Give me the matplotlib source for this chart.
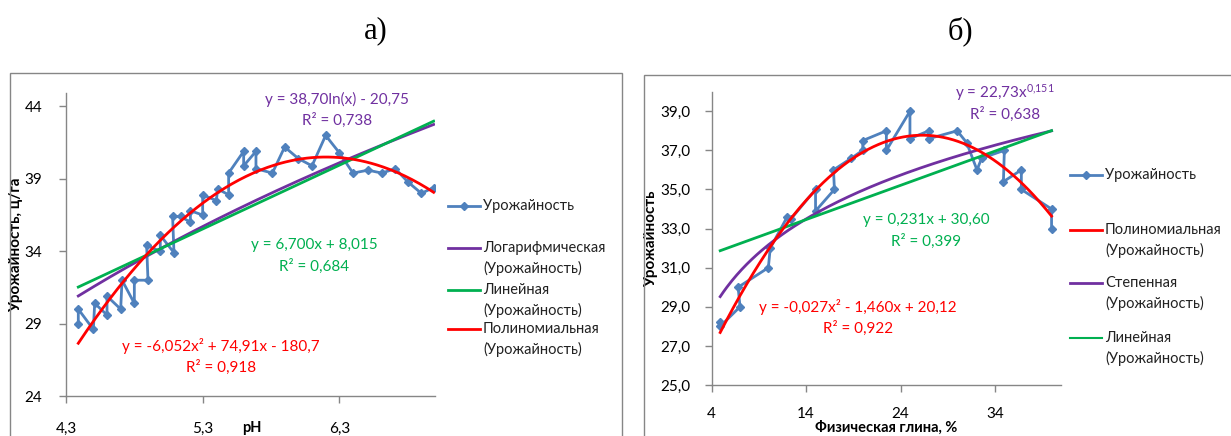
import numpy as np
import matplotlib
matplotlib.use("Agg")
import matplotlib.pyplot as plt
from matplotlib.lines import Line2D
from matplotlib.patches import Rectangle
from matplotlib.ticker import FuncFormatter

# ---------------- data ----------------
# Panel a: yield vs pH
ph = [4.39, 4.39, 4.50, 4.51, 4.60, 4.60, 4.70, 4.71, 4.80, 4.80,
      4.90, 4.89, 4.99, 4.99, 5.09, 5.08, 5.14, 5.21, 5.21, 5.30,
      5.30, 5.40, 5.41, 5.49, 5.49, 5.60, 5.60, 5.69, 5.69, 5.81,
      5.90, 6.00, 6.10, 6.20, 6.30, 6.40, 6.51, 6.61, 6.71, 6.80,
      6.90, 6.99]
yield_a = [29.0, 30.0, 28.6, 30.4, 29.6, 30.9, 30.0, 32.0, 30.4, 32.0,
           32.0, 34.4, 34.0, 35.1, 33.9, 36.4, 36.4, 36.0, 36.8, 36.5,
           37.9, 37.5, 38.3, 37.9, 39.4, 40.9, 39.9, 40.9, 39.7, 39.4,
           41.2, 40.4, 39.9, 42.0, 40.8, 39.4, 39.6, 39.4, 39.7, 38.8,
           38.0, 38.4]

# Panel b: yield vs physical clay
clay = [4.9, 4.9, 7.0, 6.8, 10.0, 10.2, 12.0, 12.4, 15.0, 15.0,
        17.0, 16.9, 18.8, 20.0, 20.0, 22.5, 22.5, 25.0, 25.0, 27.0,
        27.0, 30.0, 31.0, 32.1, 32.6, 35.0, 34.9, 36.8, 36.8, 40.0,
        40.0]
yield_b = [28.2, 28.0, 29.0, 30.0, 31.0, 32.0, 33.6, 33.5, 35.0, 33.9,
           35.0, 36.0, 36.6, 37.0, 37.5, 38.0, 37.0, 39.0, 37.6, 38.0,
           37.6, 38.0, 37.4, 36.0, 36.6, 37.0, 35.4, 36.0, 35.0, 34.0,
           33.0]

series_label = "Урожайность"
trend_labels_a = ["Логарифмическая", "Линейная", "Полиномиальная"]
trend_labels_b = ["Полиномиальная", "Степенная", "Линейная"]
eq_a = {"log": ("y = 38,70ln(x) - 20,75", "R² = 0,738"),
        "lin": ("y = 6,700x + 8,015", "R² = 0,684"),
        "poly": ("y = -6,052x² + 74,91x - 180,7", "R² = 0,918")}
eq_b = {"pow": (r"y = 22,73x$^{0{,}151}$", "R² = 0,638"),
        "lin": ("y = 0,231x + 30,60", "R² = 0,399"),
        "poly": ("y = -0,027x² - 1,460x + 20,12", "R² = 0,922")}

# ---------------- style ----------------
W, H = 1231, 436
BLUE = "#4F81BD"
PURPLE = "#7030A0"
GREEN = "#00B050"
RED = "#FF0000"
GRAY = "#868686"
FONT = "Lato"
plt.rcParams["font.family"] = [FONT, "DejaVu Sans"]
plt.rcParams["mathtext.fontset"] = "custom"
plt.rcParams["mathtext.rm"] = FONT
plt.rcParams["mathtext.it"] = FONT
plt.rcParams["mathtext.default"] = "rm"

TXT = 11
LEG = 10.5

fig = plt.figure(figsize=(W / 100, H / 100), dpi=100)


def fx(px):
    return px / W


def fy(py):
    return 1 - py / H


def add_axes(l, t, r, b):
    return fig.add_axes([fx(l), fy(b), fx(r - l), (b - t) / H])


comma = FuncFormatter(lambda v, p: ("%g" % v).replace(".", ","))
comma1 = FuncFormatter(lambda v, p: ("%.1f" % v).replace(".", ","))


def style_axes(ax):
    for s in ["top", "right"]:
        ax.spines[s].set_visible(False)
    for s in ["left", "bottom"]:
        ax.spines[s].set_color(GRAY)
        ax.spines[s].set_linewidth(1.0)
    ax.tick_params(axis="both", colors=GRAY, length=5, width=1,
                   labelcolor="black", labelsize=11)
    ax.set_facecolor("none")


def fit_curves(x, y, xs):
    x = np.asarray(x); y = np.asarray(y)
    out = {}
    out["lin"] = np.polyval(np.polyfit(x, y, 1), xs)
    out["poly"] = np.polyval(np.polyfit(x, y, 2), xs)
    out["log"] = np.polyval(np.polyfit(np.log(x), y, 1), np.log(xs))
    c = np.polyfit(np.log(x), np.log(y), 1)
    out["pow"] = np.exp(c[1]) * xs ** c[0]
    return out


# frames (chart areas)
fig.add_artist(Rectangle((fx(10), fy(440)), fx(612), (440 - 72.7) / H,
                         transform=fig.transFigure, fill=False,
                         edgecolor=GRAY, linewidth=1.0))
fig.add_artist(Rectangle((fx(644), fy(440)), fx(620), (440 - 75) / H,
                         transform=fig.transFigure, fill=False,
                         edgecolor=GRAY, linewidth=1.0))

fig.text(fx(376), fy(31), "а)", fontsize=22, family="Liberation Serif",
         ha="center", va="center")
fig.text(fx(960), fy(31), "б)", fontsize=22, family="Liberation Serif",
         ha="center", va="center")

# ---------------- panel a ----------------
axa = add_axes(66, 93, 435, 396)
style_axes(axa)
axa.set_xlim(4.3, 7.0)
axa.set_ylim(24, 44.93)
axa.set_xticks([4.3, 5.3, 6.3])
axa.set_yticks([24, 29, 34, 39, 44])
axa.xaxis.set_major_formatter(comma)
axa.yaxis.set_major_formatter(comma)
axa.tick_params(axis="x", pad=14)
axa.tick_params(axis="y", pad=12)

axa.plot(ph, yield_a, color=BLUE, lw=2, marker="D", ms=4, zorder=3)
xs = np.linspace(min(ph), max(ph), 200)
fa = fit_curves(ph, yield_a, xs)
axa.plot(xs, fa["log"], color=PURPLE, lw=2, zorder=4)
axa.plot(xs, fa["lin"], color=GREEN, lw=2, zorder=4)
axa.plot(xs, fa["poly"], color=RED, lw=2, zorder=5)

axa.set_ylabel("Урожайность, ц/га", fontsize=11, fontweight="bold")
axa.yaxis.set_label_coords((23 - 66) / 369, 0.5)
axa.set_xlabel("pH", fontsize=10.5, fontweight="bold")
axa.xaxis.set_label_coords((252 - 66) / 369, (396 - 428) / 303)
axa.xaxis.label.set_va("center")

for (key, col, cx, cy) in [("log", PURPLE, 337, 99), ("lin", GREEN, 314, 245),
                           ("poly", RED, 221, 346)]:
    e, r = eq_a[key]
    fig.text(fx(cx), fy(cy), e, color=col, fontsize=TXT, ha="center", va="center")
    fig.text(fx(cx), fy(cy + 21), r, color=col, fontsize=TXT, ha="center", va="center")


def legend_entry(x0, y, handle_kw, lines, marker=False):
    fig.add_artist(Line2D([fx(x0), fx(x0 + 32)], [fy(y), fy(y)],
                          transform=fig.transFigure, **handle_kw))
    if marker:
        fig.add_artist(Line2D([fx(x0 + 16)], [fy(y)], transform=fig.transFigure,
                              color=handle_kw["color"], marker="D", ms=4, lw=0))
    for i, t in enumerate(lines):
        fig.text(fx(x0 + 35), fy(y + 20 * i), t, fontsize=LEG, ha="left",
                 va="center", color="#222222")


legend_entry(448, 206, dict(color=BLUE, lw=2), [series_label], marker=True)
legend_entry(448, 248, dict(color=PURPLE, lw=2), [trend_labels_a[0], "(" + series_label + ")"])
legend_entry(448, 290, dict(color=GREEN, lw=2), [trend_labels_a[1], "(" + series_label + ")"])
legend_entry(448, 329, dict(color=RED, lw=2), [trend_labels_a[2], "(" + series_label + ")"])

# ---------------- panel b ----------------
axb = add_axes(711.7, 91.7, 1061, 385)
style_axes(axb)
axb.set_xlim(4, 41)
axb.set_ylim(25, 40)
axb.set_xticks([4, 14, 24, 34])
axb.set_yticks([25, 27, 29, 31, 33, 35, 37, 39])
axb.xaxis.set_major_formatter(comma)
axb.yaxis.set_major_formatter(comma1)
axb.tick_params(axis="x", pad=11)
axb.tick_params(axis="y", pad=10)

axb.plot(clay, yield_b, color=BLUE, lw=2, marker="D", ms=4, zorder=3)
xs = np.linspace(min(clay), max(clay), 200)
fb = fit_curves(clay, yield_b, xs)
axb.plot(xs, fb["pow"], color=PURPLE, lw=2, zorder=4)
axb.plot(xs, fb["lin"], color=GREEN, lw=2, zorder=4)
axb.plot(xs, fb["poly"], color=RED, lw=2, zorder=5)

axb.set_ylabel("Урожайность", fontsize=11, fontweight="bold")
axb.yaxis.set_label_coords((658 - 711.7) / 349.3, 0.5)
axb.set_xlabel("Физическая глина, %", fontsize=10.5, fontweight="bold")
axb.xaxis.set_label_coords((886 - 711.7) / 349.3, (385 - 428) / 293.3)
axb.xaxis.label.set_va("center")

for (key, col, cx, cy) in [("pow", PURPLE, 1005, 93), ("lin", GREEN, 926, 220),
                           ("poly", RED, 858, 307)]:
    e, r = eq_b[key]
    fig.text(fx(cx), fy(cy), e, color=col, fontsize=TXT, ha="center", va="center")
    fig.text(fx(cx), fy(cy + 21), r, color=col, fontsize=TXT, ha="center", va="center")

legend_entry(1070, 175, dict(color=BLUE, lw=2), [series_label], marker=True)
legend_entry(1070, 230, dict(color=RED, lw=2), [trend_labels_b[0], "(" + series_label + ")"])
legend_entry(1070, 283, dict(color=PURPLE, lw=2), [trend_labels_b[1], "(" + series_label + ")"])
legend_entry(1070, 338, dict(color=GREEN, lw=1.5), [trend_labels_b[2], "(" + series_label + ")"])

fig.savefig("out.png", dpi=100)
